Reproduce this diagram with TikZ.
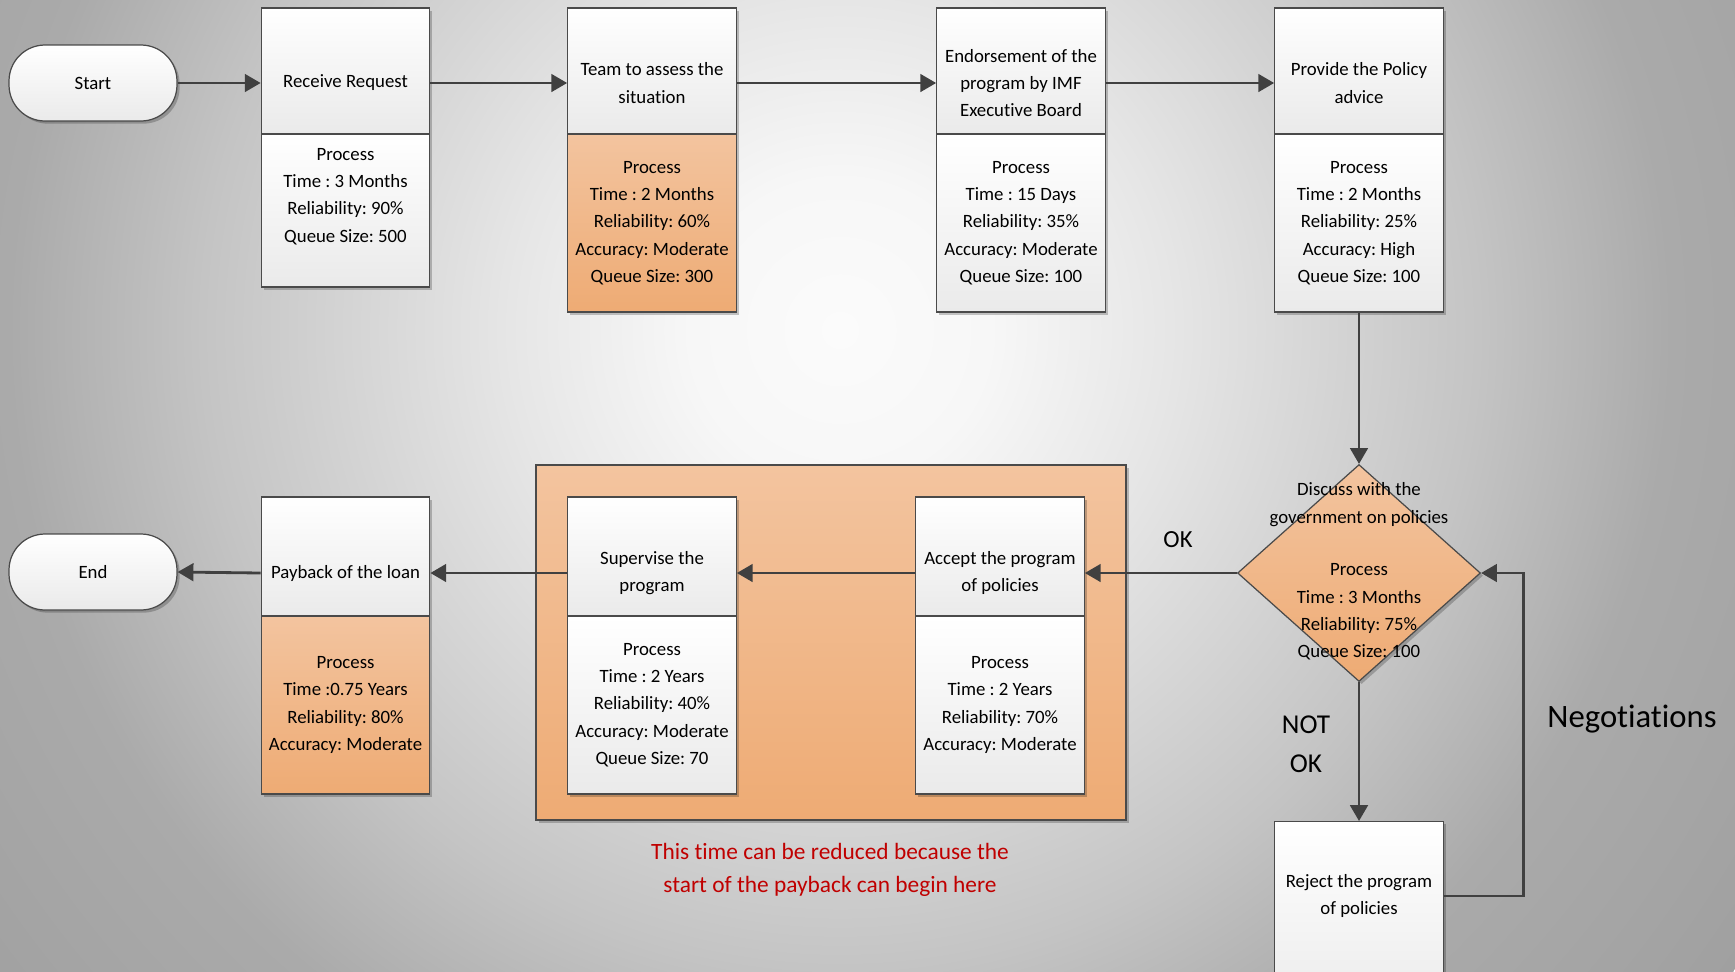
\documentclass[tikz,border=0pt]{standalone}
\usepackage{fontspec}
\setmainfont{Carlito}[Ligatures={NoCommon,NoRare,NoContextual}]
\usetikzlibrary{arrows.meta,shapes.geometric,shadows,calc}

\definecolor{linegray}{HTML}{404040}
\definecolor{edgegray}{HTML}{4A4A4A}
\definecolor{cellbot}{HTML}{EAEAEA}
\definecolor{orangetop}{HTML}{F3C49F}
\definecolor{orangebot}{HTML}{EEAB74}
\definecolor{notered}{HTML}{C00000}
\definecolor{bgA}{HTML}{FBFBFB}
\definecolor{bgB}{HTML}{F7F7F7}
\definecolor{bgC}{HTML}{E6E6E6}
\definecolor{bgD}{HTML}{C4C4C4}
\definecolor{bgE}{HTML}{AAAAAA}
\definecolor{bgF}{HTML}{A4A4A4}
\definecolor{bgG}{HTML}{A0A0A0}

% soft radial glow behind the chart
\pgfdeclareradialshading{backglow}{\pgfpoint{0bp}{0bp}}{%
  color(0bp)=(bgA); color(3.4bp)=(bgB); color(7.5bp)=(bgC);
  color(14.5bp)=(bgD); color(18.9bp)=(bgE); color(22.7bp)=(bgF);
  color(25bp)=(bgG); color(50bp)=(bgG)}

\newcommand\cellfont{\fontsize{10.7}{15.5}\selectfont}
\frenchspacing

\begin{document}
\begin{tikzpicture}[x=0.02cm, y=-0.02cm,
  softshadow/.style={drop shadow={shadow xshift=1.5pt, shadow yshift=-1.5pt, opacity=.22, fill=black}},
  cell/.style={rectangle, draw=edgegray, line width=0.7pt, inner sep=0pt,
    minimum width=3.37cm, top color=white, bottom color=cellbot, softshadow},
  ocell/.style={cell, top color=orangetop, bottom color=orangebot},
  terminal/.style={rectangle, rounded corners=0.72cm, draw=edgegray, line width=0.7pt,
    minimum width=3.36cm, minimum height=1.52cm, top color=white, bottom color=cellbot,
    softshadow, font=\cellfont},
  txt/.style={align=center, inner sep=0pt, font=\cellfont},
  arr/.style={draw=linegray, line width=1.6pt, -{Triangle[length=9pt, width=10pt]}},
  grp/.style={rectangle, draw=edgegray, line width=0.7pt, top color=orangetop,
    bottom color=orangebot, softshadow}]

\useasboundingbox (0,0) rectangle (1735,971);
\clip (0,0) rectangle (1735,971);
\shade[shading=backglow] (840,330) circle (22cm);

% group of the two supervised steps
\node[grp, minimum width=11.8cm, minimum height=7.1cm] (grp) at (831,642.5) {};

% terminals
\node[terminal] (start) at (93,83) {Start};
\node[terminal] (end) at (93,572) {End};

% top row: title cells and detail cells
\node[cell, minimum height=2.52cm] (rrT) at (345.5,71) {};
\node[cell, minimum height=3.06cm] (rrD) at (345.5,210.5) {};
\node[cell, minimum height=2.52cm] (tmT) at (652,71) {};
\node[ocell, minimum height=3.56cm] (tmD) at (652,223) {};
\node[cell, minimum height=2.52cm] (enT) at (1021,71) {};
\node[cell, minimum height=3.56cm] (enD) at (1021,223) {};
\node[cell, minimum height=2.52cm] (pvT) at (1359,71) {};
\node[cell, minimum height=3.56cm] (pvD) at (1359,223) {};

\node[txt] (rrTt) at (345.5,83) {Receive Request};
\node[txt] (rrDt) at (345.5,196.5) {Process\\Time : 3 Months\\Reliability: 90\%\\Queue Size: 500};
\node[txt] (tmTt) at (652,83) {Team to assess the\\situation};
\node[txt] (tmDt) at (652,223) {Process\\Time : 2 Months\\Reliability: 60\%\\Accuracy: Moderate\\Queue Size: 300};
\node[txt] (enTt) at (1021,83) {Endorsement of the\\program by IMF\\Executive Board};
\node[txt] (enDt) at (1021,223) {Process\\Time : 15 Days\\Reliability: 35\%\\Accuracy: Moderate\\Queue Size: 100};
\node[txt] (pvTt) at (1359,83) {Provide the Policy\\advice};
\node[txt] (pvDt) at (1359,223) {Process\\Time : 2 Months\\Reliability: 25\%\\Accuracy: High\\Queue Size: 100};

% decision
\node[diamond, draw=edgegray, line width=0.7pt, inner sep=0pt, aspect=1.12,
  minimum width=4.86cm, minimum height=4.34cm, top color=orangetop,
  bottom color=orangebot, softshadow] (dia) at (1359,573) {};
\node[txt] (diaTt) at (1359,504.5) {Discuss with the\\government on policies};
\node[txt] (diaDt) at (1359,612) {Process\\Time : 3 Months\\Reliability: 75\%\\Queue Size: 100};

% bottom row
\node[cell, minimum height=2.38cm] (acT) at (1000,556.5) {};
\node[cell, minimum height=3.56cm] (acD) at (1000,705) {};
\node[cell, minimum height=2.38cm] (svT) at (652,556.5) {};
\node[cell, minimum height=3.56cm] (svD) at (652,705) {};
\node[cell, minimum height=2.38cm] (pbT) at (345.5,556.5) {};
\node[ocell, minimum height=3.56cm] (pbD) at (345.5,705) {};
\node[cell, minimum height=4cm, anchor=north] (rjT) at (1359,821) {};

\node[txt] (acTt) at (1000,573) {Accept the program\\of policies};
\node[txt] (acDt) at (1000,705) {Process\\Time : 2 Years\\Reliability: 70\%\\Accuracy: Moderate};
\node[txt] (svTt) at (652,573) {Supervise the\\program};
\node[txt] (svDt) at (652,705) {Process\\Time : 2 Years\\Reliability: 40\%\\Accuracy: Moderate\\Queue Size: 70};
\node[txt] (pbTt) at (345.5,573) {Payback of the loan};
\node[txt] (pbDt) at (345.5,705) {Process\\Time :0.75 Years\\Reliability: 80\%\\Accuracy: Moderate};
\node[txt] (rjTt) at (1359,896) {Reject the program\\of policies};

% labels
\node[inner sep=0pt, font=\fontsize{14}{17}\selectfont] (oklab) at (1178,540) {OK};
\node[align=center, inner sep=0pt, font=\fontsize{15.5}{22}\selectfont] (notok) at (1306,744) {NOT\\OK};
\node[inner sep=0pt, font=\fontsize{18.6}{22}\selectfont] (nego) at (1632,719) {Negotiations};
\node[align=center, inner sep=0pt, text=notered, font=\fontsize{13.3}{18.8}\selectfont] (note) at (830,870)
  {This time can be reduced because the\\start of the payback can begin here};

% connectors
\draw[arr] (start.east) -- (start.east -| rrT.west);
\draw[arr] (rrT.east |- start.east) -- (tmT.west |- start.east);
\draw[arr] (tmT.east |- start.east) -- (enT.west |- start.east);
\draw[arr] (enT.east |- start.east) -- (pvT.west |- start.east);
\draw[arr] (pvD.south) -- (dia.north);
\draw[arr] (dia.south) -- (rjT.north);
\draw[arr] (rjT.east |- rjTt) -- ++(80,0) |- (dia.east);
\draw[arr] (dia.west) -- (acT.east |- dia.west);
\draw[arr] (acT.west |- dia.west) -- (svT.east |- dia.west);
\draw[arr] (svT.west |- dia.west) -- (pbT.east |- dia.west);
\draw[arr] (pbT.west |- dia.west) -- (end.east);
\end{tikzpicture}
\end{document}
